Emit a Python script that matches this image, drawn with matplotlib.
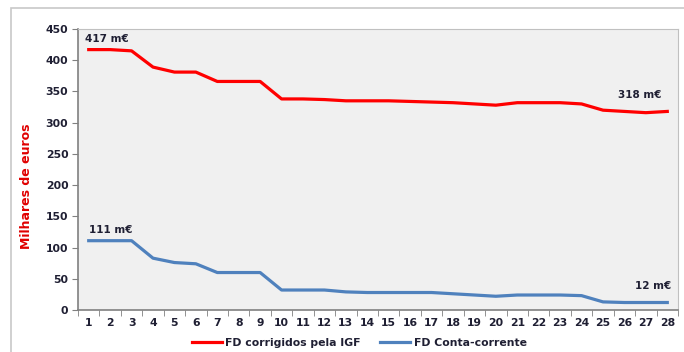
import matplotlib.pyplot as plt
from matplotlib.patches import Rectangle

plt.rcParams['font.family'] = ['DejaVu Sans']

meses = list(range(1, 29))
fd_igf = [417, 417, 415, 389, 381, 381, 366, 366, 366, 338, 338, 337, 335, 335,
          335, 334, 333, 332, 330, 328, 332, 332, 332, 330, 320, 318, 316, 318]
fd_cc = [111, 111, 111, 83, 76, 74, 60, 60, 60, 32, 32, 32, 29, 28,
         28, 28, 28, 26, 24, 22, 24, 24, 24, 23, 13, 12, 12, 12]

fig = plt.figure(figsize=(6.84, 3.52), dpi=100)
W, H = 684, 352
ax = fig.add_axes([78 / W, 1 - 310 / H, 600 / W, 281 / H])

# moldura exterior
fig.patches.append(Rectangle((11 / W, -0.1), 1.0, 1 - 8 / H + 0.1, transform=fig.transFigure,
                             fill=False, edgecolor='#c8c8c8', linewidth=1.2))

ax.set_facecolor('#f0f0f0')
ax.plot(meses, fd_igf, color='#ff0000', linewidth=2.3, label='FD corrigidos pela IGF')
ax.plot(meses, fd_cc, color='#4f81bd', linewidth=2.3, label='FD Conta-corrente')

ax.set_xlim(0.5, 28.5)
ax.set_ylim(0, 450)
ax.set_yticks(range(0, 451, 50))
ax.set_xticks(meses)
ax.set_xticks([m + 0.5 for m in range(0, 29)], minor=True)
ax.tick_params(axis='x', which='major', length=0, pad=6)
ax.tick_params(axis='x', which='minor', length=4, color='#808080', direction='out')
ax.tick_params(axis='y', length=4, color='#808080', direction='out', pad=3)
for lbl in ax.get_xticklabels() + ax.get_yticklabels():
    lbl.set_fontweight('bold')
    lbl.set_fontsize(7.8)
    lbl.set_color('#1f1f33')

for s in ['top', 'right']:
    ax.spines[s].set_color('#c0c0c0')
for s in ['left', 'bottom']:
    ax.spines[s].set_color('#808080')
    ax.spines[s].set_linewidth(1.2)

ax.set_ylabel('Milhares de euros', color='#e00000', fontweight='bold', fontsize=9)
ax.yaxis.set_label_coords(-0.075, 0.44)

lab = dict(fontsize=7.5, fontweight='bold', color='#1f1f33')
ax.annotate(f'{fd_igf[0]} m€', (meses[0], fd_igf[0]), xytext=(-3, 4),
            textcoords='offset points', ha='left', va='bottom', **lab)
ax.annotate(f'{fd_igf[-1]} m€', (meses[-1], fd_igf[-1]), xytext=(-4, 8),
            textcoords='offset points', ha='right', va='bottom', **lab)
ax.annotate(f'{fd_cc[0]} m€', (meses[0], fd_cc[0]), xytext=(0, 4),
            textcoords='offset points', ha='left', va='bottom', **lab)
ax.annotate(f'{fd_cc[-1]} m€', (meses[-1], fd_cc[-1]), xytext=(3, 8),
            textcoords='offset points', ha='right', va='bottom', **lab)

leg = fig.legend(loc='center', bbox_to_anchor=(0.525, 1 - 343 / H), ncol=2, frameon=False,
                 prop={'weight': 'bold', 'size': 7.8}, handlelength=2.8, handletextpad=0.3,
                 columnspacing=1.8)
for t in leg.get_texts():
    t.set_color('#1f1f33')

fig.savefig('out.png', dpi=100)
